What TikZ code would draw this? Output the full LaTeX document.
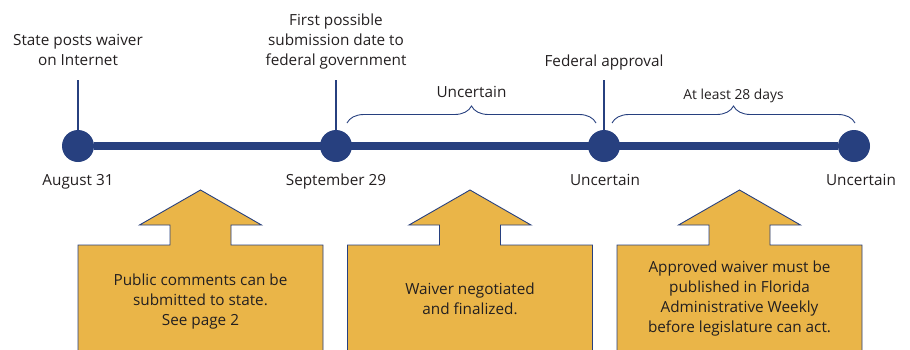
\documentclass[tikz,border=0pt]{standalone}
\usepackage{fontspec}
\setmainfont{Open Sans}
\usepackage{tikz}
\usetikzlibrary{decorations.pathreplacing}
\definecolor{navy}{HTML}{27407F}
\definecolor{gold}{HTML}{EAB548}
\definecolor{ink}{HTML}{231F20}

\begin{document}
\begin{tikzpicture}[x=1pt,y=-1pt,
  font=\fontsize{15.3}{20}\selectfont,text=ink,
  event/.style={circle,fill=navy,minimum size=32pt,inner sep=0pt},
  stalk/.style={navy,line width=1.3pt},
  caption/.style={align=center,inner sep=0pt,anchor=base},
  spanbrace/.style={draw=navy,line width=0.9pt,decorate,decoration={brace,amplitude=17pt}},
  callout/.style={draw=navy,fill=gold,line width=0.9pt,line join=miter},
  note/.style={align=center,inner sep=0pt}]
\useasboundingbox (0,0) rectangle (910,349);
\clip (0,0) rectangle (910,349);
\node [event] (aug) at (78,146) {};
\node [event] (sep) at (336,146) {};
\node [event] (fed) at (604,146) {};
\node [event] (fin) at (854,146) {};
\draw [navy,line width=8pt] (aug) -- (fin);
\coordinate (augtop) at (78,80);
\coordinate (septop) at (336,80);
\coordinate (fedtop) at (604,80);
\draw [stalk] (aug) -- (augtop);
\draw [stalk] (sep) -- (septop);
\draw [stalk] (fed) -- (fedtop);
\node [caption] (augnote) at (78,65) {State posts waiver\\on Internet};
\node [caption] (sepnote) at (336,65) {First possible\\submission date to\\federal government};
\node [caption] (fednote) at (604,66) {Federal approval};
\node [caption] (augdate) at (78,185) {August 31};
\node [caption] (sepdate) at (336,185) {September 29};
\node [caption] (feddate) at (605,185) {Uncertain};
\node [caption] (findate) at (861,185) {Uncertain};
\coordinate (wait1) at (347,123);
\coordinate (wait2) at (596,123);
\coordinate (pub1) at (612,123);
\coordinate (pub2) at (855,123);
\draw [spanbrace] (wait1) -- (wait2)
  node [midway,anchor=base,yshift=26pt] (waitnote) {Uncertain};
\draw [spanbrace] (pub1) -- (pub2)
  node [midway,anchor=base,yshift=24pt,font=\fontsize{13.8}{16}\selectfont] (pubnote) {At least 28 days};
\foreach \c/\h/\words [count=\i] in {200.5/302/{Public comments can be\\submitted to state.\\See page 2},
    470/299/{Waiver negotiated\\and finalized.},
    739.5/299/{Approved waiver must be\\published in Florida\\Administrative Weekly\\before legislature can act.}}{
  \draw [callout] (\c-122.5,360) -- (\c-122.5,245) -- (\c-30.5,245) -- (\c-30.5,225)
    -- (\c-61,225) -- (\c,190) -- (\c+61,225) -- (\c+30.5,225) -- (\c+30.5,245)
    -- (\c+122.5,245) -- (\c+122.5,360);
  \node [note] (box\i) at (\c,\h) {\words};
}
\end{tikzpicture}
\end{document}
